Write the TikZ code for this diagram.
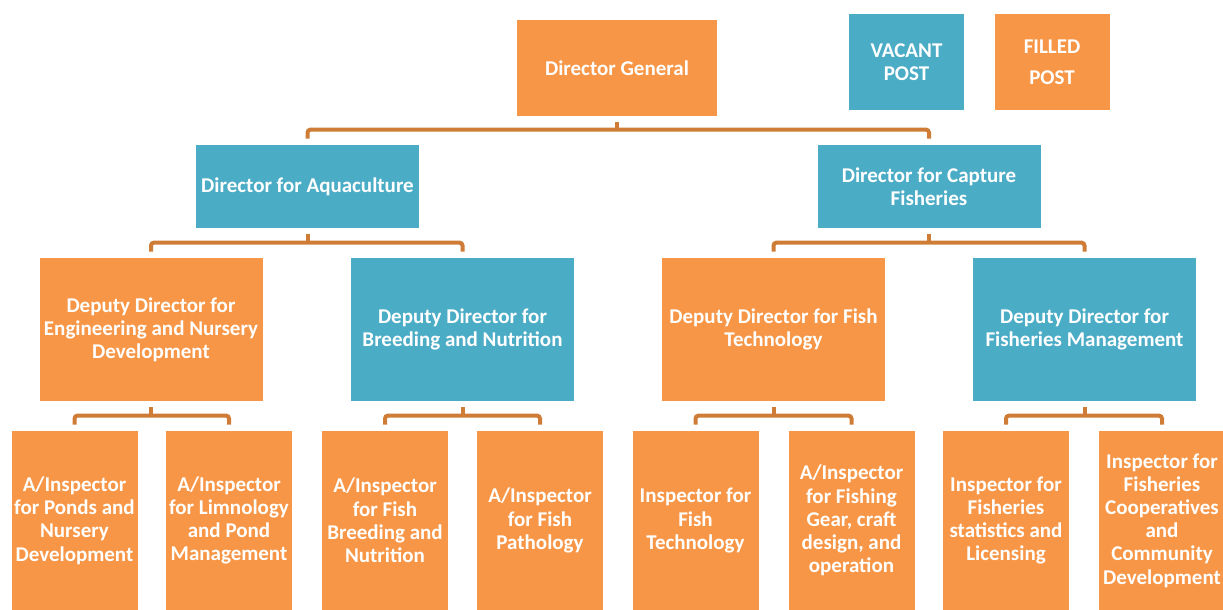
\documentclass[tikz,border=0pt]{standalone}
\usepackage{fontspec}
\setmainfont{Carlito}

\tikzset{
  orgbox/.style={inner sep=0pt,align=center,text=white,
    font=\bfseries\fontsize{10.5}{11.6}\selectfont},
  filled/.style={orgbox,fill=kOrange},
  vacant/.style={orgbox,fill=kBlue},
  topbox/.style={minimum width=100pt,minimum height=48pt},
  keybox/.style={minimum width=57.5pt,minimum height=48pt},
  dirbox/.style={minimum width=111.5pt,minimum height=41.5pt},
  depbox/.style={minimum width=111.5pt,minimum height=71.5pt},
  insbox/.style={minimum width=63pt,minimum height=89.5pt},
  link/.style={color=kBrown,line width=2pt,rounded corners=1.5pt}
}

\begin{document}
\begin{tikzpicture}[x=0.5pt,y=-0.5pt]
  \definecolor{kOrange}{RGB}{247,150,70}
  \definecolor{kBlue}{RGB}{75,172,198}
  \definecolor{kBrown}{RGB}{206,124,54}

  \useasboundingbox (0,0) rectangle (1223,610);

  % key
  \node[vacant,keybox] (vacantkey) at (906.5,62) {VACANT\\POST};
  \node[filled,keybox] (filledkey) at (1052,62) {FILLED\\[4pt]POST};

  % top two levels
  \node[filled,topbox] (dg) at (617,68) {Director General};
  \node[vacant,dirbox] (aqua) at (307.5,186.5) {Director for Aquaculture};
  \node[vacant,dirbox] (capture) at (929,186.5) {Director for Capture\\Fisheries};

  % deputy directors
  \node[filled,depbox] (ddeng) at (151,329.5)
    {Deputy Director for\\Engineering and Nursery\\Development};
  \node[vacant,depbox] (ddbreed) at (462.5,329.5)
    {Deputy Director for\\Breeding and Nutrition};
  \node[filled,depbox] (ddtech) at (773.5,329.5)
    {Deputy Director for Fish\\Technology};
  \node[vacant,depbox] (ddmgmt) at (1084.5,329.5)
    {Deputy Director for\\Fisheries Management};

  % inspectors
  \node[filled,insbox] (inponds) at (74.5,520.5)
    {A/Inspector\\for Ponds and\\Nursery\\Development};
  \node[filled,insbox] (inlimno) at (229,520.5)
    {A/Inspector\\for Limnology\\and Pond\\Management};
  \node[filled,insbox] (inbreed) at (385,520.5)
    {A/Inspector\\for Fish\\Breeding and\\Nutrition};
  \node[filled,insbox] (inpath) at (540,520.5)
    {A/Inspector\\for Fish\\Pathology};
  \node[filled,insbox] (intech) at (695.5,520.5)
    {Inspector for\\Fish\\Technology};
  \node[filled,insbox] (ingear) at (851.5,520.5)
    {A/Inspector\\for Fishing\\Gear, craft\\design, and\\operation};
  \node[filled,insbox] (instat) at (1006,520.5)
    {Inspector for\\Fisheries\\statistics and\\Licensing};
  \node[filled,insbox] (incoop) at (1162,520.5)
    {Inspector for\\Fisheries\\Cooperatives\\and\\Community\\Development};

  % brackets
  \foreach \p/\a/\b in {dg/aqua/capture,
                        aqua/ddeng/ddbreed, capture/ddtech/ddmgmt,
                        ddeng/inponds/inlimno, ddbreed/inbreed/inpath,
                        ddtech/intech/ingear, ddmgmt/instat/incoop}
  {
    \draw[link] ([yshift=-3pt]\p.south) -- ++(0,9); % stub
    \draw[link] ([yshift=3pt]\a.north) -- ([yshift=7.5pt]\a.north)
      -- ([yshift=7.5pt]\b.north) -- ([yshift=3pt]\b.north);
  }
\end{tikzpicture}
\end{document}
